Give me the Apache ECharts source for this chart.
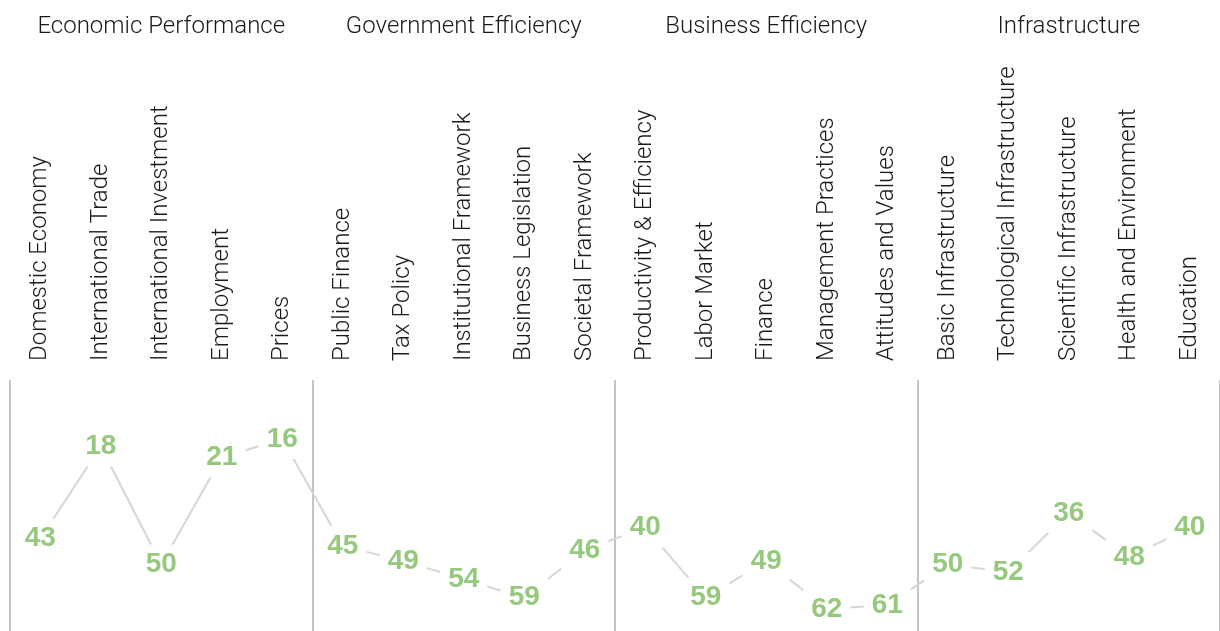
<!DOCTYPE html>
<html>
<head>
<meta charset="utf-8">
<script src="https://cdn.jsdelivr.net/npm/echarts@6/dist/echarts.min.js"></script>
<style>html,body{margin:0;padding:0;background:#fff;}#c{width:1220px;height:631px;}</style>
</head>
<body>
<div id="c"></div>
<script>
const groups = ['Economic Performance', 'Government Efficiency', 'Business Efficiency', 'Infrastructure'];
const categories = [
  'Domestic Economy', 'International Trade', 'International Investment', 'Employment', 'Prices',
  'Public Finance', 'Tax Policy', 'Institutional Framework', 'Business Legislation', 'Societal Framework',
  'Productivity & Efficiency', 'Labor Market', 'Finance', 'Management Practices', 'Attitudes and Values',
  'Basic Infrastructure', 'Technological Infrastructure', 'Scientific Infrastructure', 'Health and Environment', 'Education'
];
const ranks = [43, 18, 50, 21, 16, 45, 49, 54, 59, 46, 40, 59, 49, 62, 61, 50, 52, 36, 48, 40];

const chart = echarts.init(document.getElementById('c'), null, {renderer: 'canvas'});
chart.setOption({
  animation: false,
  backgroundColor: '#ffffff',
  grid: {left: 10, top: 380, width: 1214, bottom: 0, containLabel: false},
  xAxis: [{
    type: 'category',
    data: categories,
    position: 'top',
    boundaryGap: true,
    axisLine: {show: false},
    axisTick: {show: false},
    splitLine: {show: false},
    axisLabel: {
      rotate: 90, margin: 19, interval: 0,
      fontFamily: 'Roboto', fontWeight: 300, fontSize: 24, color: '#1a1a1a'
    }
  }, {
    type: 'category',
    data: groups,
    position: 'top',
    offset: 353,
    boundaryGap: true,
    axisLine: {show: false},
    axisTick: {show: false},
    splitLine: {show: true, lineStyle: {color: '#b0b0b0', width: 1.5}},
    axisLabel: {
      margin: 0, interval: 0, verticalAlign: 'middle',
      fontFamily: 'Roboto', fontWeight: 300, fontSize: 24, color: '#1a1a1a'
    }
  }],
  yAxis: {
    type: 'value', inverse: true, min: 0, max: 68, show: false,
    splitLine: {show: false}
  },
  series: [{
    type: 'line',
    data: ranks,
    xAxisIndex: 0,
    symbol: 'circle',
    symbolSize: 1,
    showSymbol: true,
    itemStyle: {color: 'rgba(0,0,0,0)'},
    lineStyle: {color: '#d6d6d6', width: 2},
    label: {
      show: true, position: 'inside',
      fontFamily: 'Liberation Sans', fontWeight: 'bold', fontSize: 28,
      color: '#96c97d', backgroundColor: '#ffffff',
      padding: [6, 8], lineHeight: 28
    },
    z: 3
  }]
});
</script>
</body>
</html>
